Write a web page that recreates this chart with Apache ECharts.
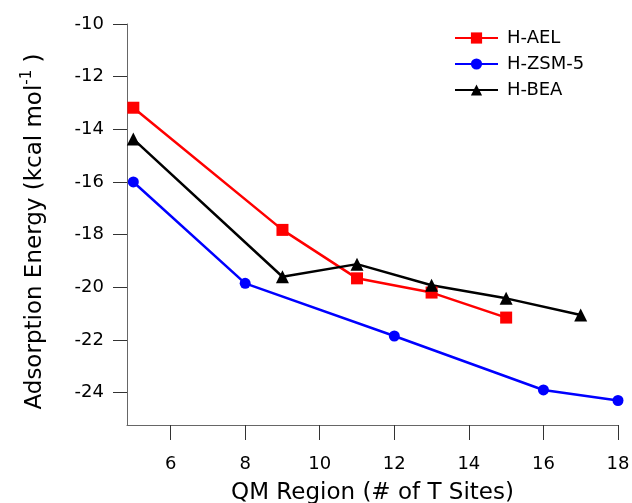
<!DOCTYPE html>
<html>
<head>
<meta charset="utf-8">
<script src="https://cdn.jsdelivr.net/npm/echarts@6/dist/echarts.min.js"></script>
<style>
html,body{margin:0;padding:0;background:#fff;}
#c{width:632px;height:503px;}
</style>
</head>
<body>
<div id="c"></div>
<script>
const seriesNames = ['H-AEL', 'H-ZSM-5', 'H-BEA'];
const aelX = [5, 9, 11, 13, 15];
const aelY = [-13.18, -17.82, -19.66, -20.2, -21.15];
const zsmX = [5, 8, 12, 16, 18];
const zsmY = [-16.0, -19.85, -21.85, -23.9, -24.3];
const beaX = [5, 9, 11, 13, 15, 17];
const beaY = [-14.37, -19.6, -19.12, -19.92, -20.42, -21.05];
const xTicks = [6, 8, 10, 12, 14, 16, 18];
const yTicks = [-24, -22, -20, -18, -16, -14, -12, -10];

function pairs(xs, ys) { return xs.map((x, i) => [x, ys[i]]); }

const font = 'DejaVu Sans';
const chart = echarts.init(document.getElementById('c'), null, {renderer: 'canvas'});
chart.setOption({
  animation: false,
  backgroundColor: '#fff',
  grid: {left: 127, right: 14, top: 24, bottom: 78, containLabel: false, outerBoundsMode: 'none'},
  legend: {
    orient: 'vertical',
    left: 454, top: 29, padding: 0,
    itemWidth: 43, itemHeight: 14, itemGap: 8,
    textStyle: {fontFamily: font, fontSize: 18, color: '#000', padding: [0, 0, 0, 4]},
    data: seriesNames
  },
  xAxis: {
    type: 'value', min: 4.83, max: 18,
    name: 'QM Region (# of T Sites)', nameLocation: 'middle', nameGap: 57,
    nameTextStyle: {fontFamily: font, fontSize: 23, color: '#000'},
    axisLine: {show: true, onZero: false, lineStyle: {color: '#666', width: 1}},
    axisTick: {show: true, inside: false, length: 15, customValues: xTicks, lineStyle: {color: '#333'}},
    axisLabel: {customValues: xTicks, fontFamily: font, fontSize: 18, color: '#000', margin: 30},
    splitLine: {show: false}
  },
  yAxis: {
    type: 'value', min: -25.23, max: -10,
    name: 'Adsorption Energy (kcal mol{sup|-1} )', nameLocation: 'middle', nameGap: 77, nameRotate: 90,
    nameTextStyle: {fontFamily: font, fontSize: 23, color: '#000', padding: [0, 14, 0, 0],
      rich: {sup: {fontFamily: font, fontSize: 15, verticalAlign: 'top', lineHeight: 30, padding: [0, 0, 15, 0]}}},
    axisLine: {show: true, onZero: false, lineStyle: {color: '#666', width: 1}},
    axisTick: {show: true, inside: false, length: 14, customValues: yTicks, lineStyle: {color: '#333'}},
    axisLabel: {customValues: yTicks, fontFamily: font, fontSize: 18, color: '#000', margin: 23},
    splitLine: {show: false}
  },
  series: [
    {name: seriesNames[0], type: 'line', data: pairs(aelX, aelY), symbol: 'rect', symbolSize: 12,
     itemStyle: {color: '#ff0000'}, lineStyle: {color: '#ff0000', width: 2.5}},
    {name: seriesNames[1], type: 'line', data: pairs(zsmX, zsmY), symbol: 'circle', symbolSize: 11,
     itemStyle: {color: '#0000ff'}, lineStyle: {color: '#0000ff', width: 2.5}},
    {name: seriesNames[2], type: 'line', data: pairs(beaX, beaY), symbol: 'triangle', symbolSize: 13,
     itemStyle: {color: '#000'}, lineStyle: {color: '#000', width: 2.5}}
  ]
});
</script>
</body>
</html>
